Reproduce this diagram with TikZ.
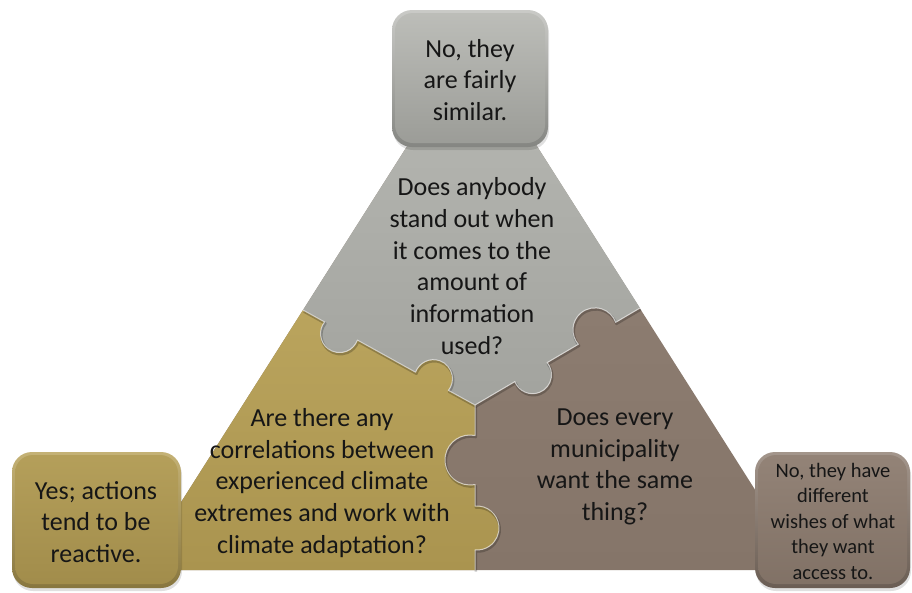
\documentclass[tikz,border=0pt]{standalone}
\usepackage{fontspec}
\setmainfont{Carlito}
\usetikzlibrary{calc}

\definecolor{grayA}{RGB}{184,185,180}
\definecolor{grayB}{RGB}{162,163,158}
\definecolor{goldA}{RGB}{186,164,93}
\definecolor{goldB}{RGB}{170,148,79}
\definecolor{brownA}{RGB}{147,131,119}
\definecolor{brownB}{RGB}{133,117,105}
\definecolor{inktext}{RGB}{22,22,22}

\tikzset{
  % puzzle knob on a straight border: neck centre x, y, border angle,
  % bulge side (+1/-1), radius, centre offset
  knob/.style n args={6}{insert path={
    -- ({#1-cos(#3)*sqrt((#5)*(#5)-(#6)*(#6))},{#2-sin(#3)*sqrt((#5)*(#5)-(#6)*(#6))})
    arc[start angle={#3+(#4)*(270-atan2(sqrt((#5)*(#5)-(#6)*(#6)),#6))},
        end angle={#3+(#4)*(atan2(sqrt((#5)*(#5)-(#6)*(#6)),#6)-90)},
        radius=#5]
  }},
  edgeshadow/.style={draw=black, draw opacity=.22, line width=2.4pt, line join=round},
  edgelight/.style={draw=white, draw opacity=.6, line width=1pt, line join=round},
  qtext/.style={font=\fontsize{26}{31.7}\selectfont, align=center, inner sep=0pt, text=inktext},
  atext/.style={font=\fontsize{20.5}{25.5}\selectfont, align=center, inner sep=0pt, text=inktext},
}

% bevelled rounded box: x1, y1, x2, y2, rim top, rim bottom, face top, face bottom
\newcommand\bevelbox[8]{%
  \fill[black, opacity=.12, rounded corners=20pt] ({#1+1},{#2+3}) rectangle ({#3+1},{#4+3});
  \shade[rounded corners=20pt, top color=#5, bottom color=#6] (#1,#2) rectangle (#3,#4);
  \shade[rounded corners=18pt, top color=#7, bottom color=#8] ({#1+3},{#2+3}) rectangle ({#3-3},{#4-4});
}

\begin{document}
\begin{tikzpicture}[x=1pt, y=-1pt]
\useasboundingbox (0,0) rectangle (912,592);

% whole triangle, showing as the brown piece
\shade[top color=brownA, bottom color=brownB] (472,44) -- (806,570) -- (138,570) -- cycle;

% gold piece (bottom left)
\shade[top color=goldA, bottom color=goldB] (303,310)
  [knob={341}{331}{28.91}{1}{19}{3}]
  [knob={432}{381.3}{28.91}{-1}{19}{3}]
  -- (475,405)
  [knob={475}{460}{90}{1}{25}{5}]
  [knob={475}{528}{90}{-1}{22}{2}]
  -- (475,570) -- (138,570) -- cycle;

% gray piece (top)
\shade[top color=grayA, bottom color=grayB] (303,310)
  [knob={341}{331}{28.91}{1}{19}{3}]
  [knob={432}{381.3}{28.91}{-1}{19}{3}]
  -- (475,405)
  [knob={531}{372.1}{-30.45}{1}{19}{3}]
  [knob={597}{333.3}{-30.45}{-1}{22}{4}]
  -- (640,308) -- (472,44) -- cycle;

% bevel along the piece borders
\begin{scope}[shift={(0.8,1.6)}]
\draw[edgeshadow] (303,310)
  [knob={341}{331}{28.91}{1}{19}{3}]
  [knob={432}{381.3}{28.91}{-1}{19}{3}]
  -- (475,405)
  [knob={531}{372.1}{-30.45}{1}{19}{3}]
  [knob={597}{333.3}{-30.45}{-1}{22}{4}]
  -- (640,308);
\draw[edgeshadow] (475,405)
  [knob={475}{460}{90}{1}{25}{5}]
  [knob={475}{528}{90}{-1}{22}{2}]
  -- (475,570);
\end{scope}
\draw[edgelight] (303,310)
  [knob={341}{331}{28.91}{1}{19}{3}]
  [knob={432}{381.3}{28.91}{-1}{19}{3}]
  -- (475,405)
  [knob={531}{372.1}{-30.45}{1}{19}{3}]
  [knob={597}{333.3}{-30.45}{-1}{22}{4}]
  -- (640,308);
\draw[edgelight] (475,405)
  [knob={475}{460}{90}{1}{25}{5}]
  [knob={475}{528}{90}{-1}{22}{2}]
  -- (475,570);

% answer boxes
\bevelbox{392}{10}{548}{147}{grayA!75!white}{grayB!82!black}{grayA!94!white}{grayB!96!black}
\bevelbox{12}{452}{181}{588}{goldA!85!white}{goldB!80!black}{goldA!97!black}{goldB!95!black}
\bevelbox{755}{452}{910}{588}{brownA!85!white}{brownB!80!black}{brownA}{brownB!97!black}

% texts
\node[qtext] (qgray) at (472,266) {Does anybody\\stand out when\\it comes to the\\amount of\\information\\used?};
\node[qtext] (qgold) at (322,483) {Are there any\\correlations between\\experienced climate\\extremes and work with\\climate adaptation?};
\node[qtext] (qbrown) at (615,467) {Does every\\municipality\\want the same\\thing?};
\node[qtext] (atop) at (470,80) {No, they\\are fairly\\similar.};
\node[qtext] (aleft) at (96,522) {Yes; actions\\tend to be\\reactive.};
\node[atext] (aright) at (833,521) {No, they have\\different\\wishes of what\\they want\\access to.};
\end{tikzpicture}
\end{document}
